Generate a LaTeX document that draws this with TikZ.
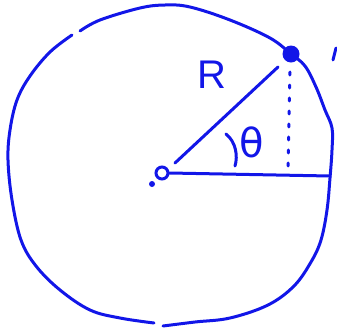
\documentclass[tikz,border=0pt]{standalone}
\usepackage{fontspec}
\setmainfont{Liberation Sans}
\newfontfamily\handfont{DejaVu Sans}
\usetikzlibrary{positioning}
\definecolor{pen}{RGB}{18,22,232}

\begin{document}
\begin{tikzpicture}[
  x=1pt, y=-1pt,
  stroke/.style={draw=pen, line width=3pt, line cap=round, line join=round},
  dotline/.style={stroke, dash pattern=on 3pt off 10pt},
  label/.style={text=pen, inner sep=0pt, font=\fontsize{40}{40}\selectfont}
]
\useasboundingbox (0,0) rectangle (337,330);
% circle, drawn freehand in two strokes
\draw[stroke] plot[smooth, tension=0.6] coordinates {(80,31) (100,20) (140,8) (165,5) (190,7) (230,20) (270,38) (291,54) (305,66) (316,87) (325,110) (332,128) (332,150) (330,178) (327,210) (321,240) (311,262) (294,286) (268,305) (230,318) (195,322) (163,326)};
\draw[stroke] plot[smooth, tension=0.6] coordinates {(154,323) (120,318) (90,310) (60,290) (36,266) (21,240) (12,200) (8,160) (10,130) (17,100) (30,76) (50,52) (72,35)};
% origin and point on the rim
\node[circle, draw=pen, line width=3pt, minimum size=12pt, inner sep=0pt] (O) at (162,173) {};
\node[circle, fill=pen, inner sep=0pt, minimum size=6pt] (Odot) at (152,184) {};
\node[circle, fill=pen, inner sep=0pt, minimum size=17pt] (P) at (291,54) {};
\coordinate (F) at (288,170);
\coordinate (E) at (330,176);
\draw[stroke] (O) ++(13,-10) -- (278,67);
\draw[stroke] (O.east) -- (E);
\draw[dotline] (P) ++(-1,18) -- (F);
% angle mark
\draw[stroke] (226,134) .. controls (236,142) and (238,156) .. (235,166);
\node[label] (R) at (212,75) {R};
\node[label, font=\handfont\fontsize{40}{40}\selectfont] (theta) at (252,142) {θ};
\draw[stroke] (336,48) -- (333,60);
\end{tikzpicture}
\end{document}
